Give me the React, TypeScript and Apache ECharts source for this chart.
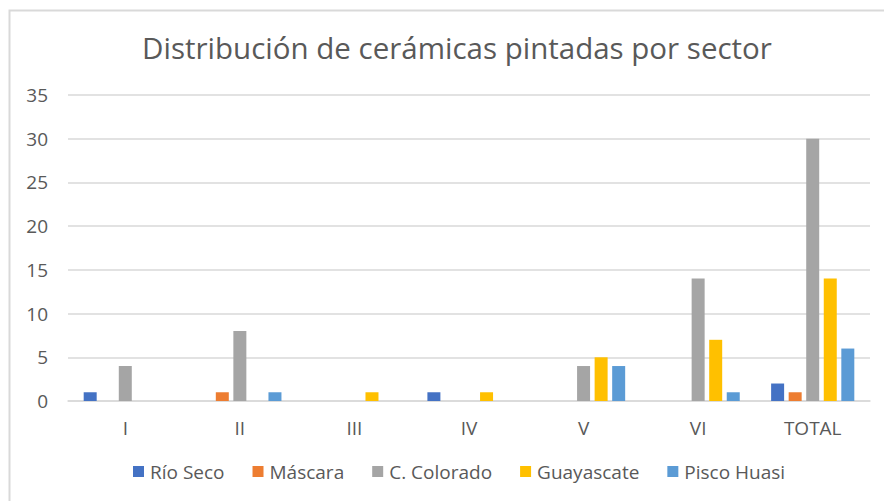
import React, { useEffect, useRef } from "react";
import * as echarts from "echarts";

const categories = ["I", "II", "III", "IV", "V", "VI", "TOTAL"];
const seriesNames = ["Río Seco", "Máscara", "C. Colorado", "Guayascate", "Pisco Huasi"];
const rioSeco = [1, 0, 0, 1, 0, 0, 2];
const mascara = [0, 1, 0, 0, 0, 0, 1];
const cColorado = [4, 8, 0, 0, 4, 14, 30];
const guayascate = [0, 0, 1, 1, 5, 7, 14];
const piscoHuasi = [0, 1, 0, 0, 4, 1, 6];
const colors = ["#4472C4", "#ED7D31", "#A5A5A5", "#FFC000", "#5B9BD5"];
const title = "Distribución de cerámicas pintadas por sector";

const FONT = "'Open Sans', 'Noto Sans', sans-serif";

export default function App() {
  const ref = useRef<HTMLDivElement>(null);
  useEffect(() => {
    if (!ref.current) return;
    const chart = echarts.init(ref.current, null, { renderer: "svg" });
    const values = [rioSeco, mascara, cColorado, guayascate, piscoHuasi];
    chart.setOption({
      animation: false,
      backgroundColor: "#ffffff",
      color: colors,
      title: {
        text: title,
        left: 452,
        textAlign: "center",
        top: 27,
        textStyle: { fontFamily: FONT, fontSize: 29.5, fontWeight: "normal", color: "#595959" },
      },
      graphic: [
        {
          type: "rect",
          shape: { x: 9.5, y: 10.5, width: 900, height: 600 },
          style: { fill: "none", stroke: "#D9D9D9", lineWidth: 2 },
          silent: true,
        },
      ],
      legend: {
        bottom: 15,
        left: 128,
        itemWidth: 11,
        itemHeight: 11,
        itemGap: 28,
        icon: "rect",
        textStyle: { fontFamily: FONT, fontSize: 19, color: "#595959", padding: [0, 0, 0, 1] },
        data: seriesNames,
      },
      grid: { left: 68, right: 14, top: 95, bottom: 100 },
      xAxis: {
        type: "category",
        data: categories,
        axisLine: { lineStyle: { color: "#D9D9D9", width: 1.5 } },
        axisTick: { show: false },
        axisLabel: { fontFamily: FONT, fontSize: 19, color: "#595959", margin: 17 },
      },
      yAxis: {
        type: "value",
        min: 0,
        max: 35,
        interval: 5,
        axisLine: { show: false },
        axisTick: { show: false },
        splitLine: { lineStyle: { color: "#D9D9D9", width: 1.5 } },
        axisLabel: { fontFamily: FONT, fontSize: 19, color: "#595959", margin: 20 },
      },
      series: seriesNames.map((name, i) => ({
        name,
        type: "bar",
        data: values[i],
        barWidth: 13,
        barGap: "35%",
        itemStyle: { color: colors[i] },
      })),
    });
    return () => chart.dispose();
  }, []);
  return (
    <div
      ref={ref}
      style={{ position: "fixed", left: 0, top: 0, width: 884, height: 501 }}
    />
  );
}
